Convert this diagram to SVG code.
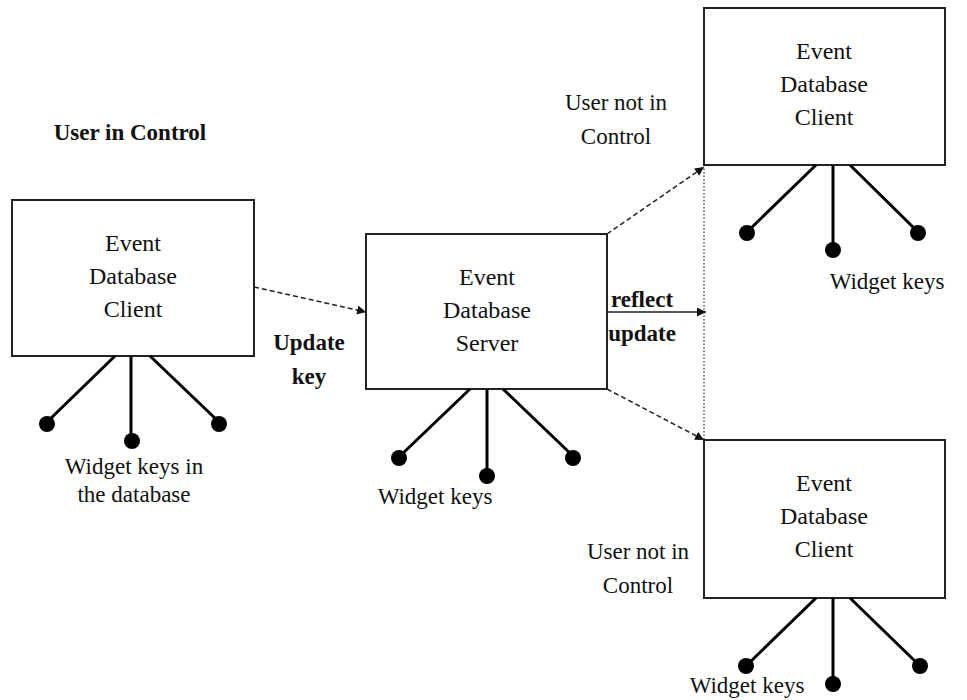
<svg xmlns="http://www.w3.org/2000/svg" width="967" height="700" viewBox="0 0 967 700">
  <style>
    .box { fill: #ffffff; stroke: #222; stroke-width: 2; }
    .leg { stroke: #000; stroke-width: 3; fill: none; }
    .key { fill: #000; }
    text { fill: #111; text-anchor: middle; font-family: "Times New Roman", "Liberation Serif", Tinos, "DejaVu Serif", serif; }
    .bt { font-size: 24px; }
    .lt { font-size: 23px; }
    .dash { stroke: #222; stroke-width: 1.5; stroke-dasharray: 5 3; fill: none; }
    .solid { stroke: #222; stroke-width: 1.5; fill: none; }
    .dot { stroke: #333; stroke-width: 1.2; stroke-dasharray: 1.5 2; fill: none; }
  </style>
  <defs>
    <marker id="arr" viewBox="0 0 10 10" refX="10" refY="5" markerWidth="9" markerHeight="9" orient="auto" markerUnits="userSpaceOnUse">
      <path d="M0,0 L10,5 L0,10 z" fill="#111"/>
    </marker>
  </defs>
  <rect width="967" height="700" fill="#ffffff"/>

  <!-- connectors -->
  <g id="connectors">
    <path class="dash" d="M254,287 L366,312" marker-end="url(#arr)"/>
    <path class="dash" d="M607,234 L704,167" marker-end="url(#arr)"/>
    <path class="solid" d="M607,312 L706,312" marker-end="url(#arr)"/>
    <path class="dash" d="M607,389 L704,440" marker-end="url(#arr)"/>
    <path class="dot" d="M704,165 L704,440"/>
  </g>

  <!-- free labels -->
  <text class="lt" x="130" y="140" font-weight="bold">User in Control</text>
  <text class="lt" x="309" y="350" font-weight="bold">Update</text>
  <text class="lt" x="309" y="384" font-weight="bold">key</text>
  <text class="lt" x="642" y="307" font-weight="bold">reflect</text>
  <text class="lt" x="642" y="341" font-weight="bold">update</text>
  <text class="lt" x="616" y="110">User not in</text>
  <text class="lt" x="616" y="144">Control</text>
  <text class="lt" x="638" y="559">User not in</text>
  <text class="lt" x="638" y="593">Control</text>

  <!-- client in control -->
  <g id="client-left">
    <rect class="box" x="12" y="200" width="242" height="156"/>
    <text class="bt" x="133" y="251">Event</text>
    <text class="bt" x="133" y="284">Database</text>
    <text class="bt" x="133" y="317">Client</text>
    <path class="leg" d="M115,356 L47,422 M131,356 L131,440 M150,356 L219,422"/>
    <circle class="key" cx="47" cy="424" r="8"/>
    <circle class="key" cx="132" cy="441" r="8"/>
    <circle class="key" cx="219" cy="424" r="8"/>
    <text class="lt" x="134" y="474">Widget keys in</text>
    <text class="lt" x="134" y="502">the database</text>
  </g>

  <!-- server -->
  <g id="server">
    <rect class="box" x="366" y="234" width="241" height="155"/>
    <text class="bt" x="487" y="285">Event</text>
    <text class="bt" x="487" y="318">Database</text>
    <text class="bt" x="487" y="351">Server</text>
    <path class="leg" d="M470,389 L400,456 M487,389 L487,474 M503,389 L573,456"/>
    <circle class="key" cx="399" cy="458" r="8"/>
    <circle class="key" cx="487" cy="476" r="8"/>
    <circle class="key" cx="573" cy="458" r="8"/>
    <text class="lt" x="435" y="504">Widget keys</text>
  </g>

  <!-- client top right -->
  <g id="client-top">
    <rect class="box" x="704" y="8" width="241" height="157"/>
    <text class="bt" x="824" y="59">Event</text>
    <text class="bt" x="824" y="92">Database</text>
    <text class="bt" x="824" y="125">Client</text>
    <path class="leg" d="M816,165 L748,231 M833,165 L833,249 M850,165 L917,231"/>
    <circle class="key" cx="747" cy="233" r="8"/>
    <circle class="key" cx="833" cy="250" r="8"/>
    <circle class="key" cx="918" cy="233" r="8"/>
    <text class="lt" x="887" y="289">Widget keys</text>
  </g>

  <!-- client bottom right -->
  <g id="client-bottom">
    <rect class="box" x="704" y="440" width="241" height="158"/>
    <text class="bt" x="824" y="491">Event</text>
    <text class="bt" x="824" y="524">Database</text>
    <text class="bt" x="824" y="557">Client</text>
    <path class="leg" d="M816,598 L748,664 M833,598 L833,682 M850,598 L918,664"/>
    <circle class="key" cx="746" cy="666" r="8"/>
    <circle class="key" cx="833" cy="684" r="8"/>
    <circle class="key" cx="920" cy="666" r="8"/>
    <text class="lt" x="747" y="693">Widget keys</text>
  </g>
</svg>
